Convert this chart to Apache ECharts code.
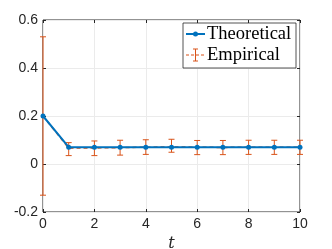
<!DOCTYPE html>
<html><head><meta charset="utf-8">
<script src="https://cdn.jsdelivr.net/npm/echarts@6/dist/echarts.min.js"></script>
<style>html,body{margin:0;padding:0;background:#fff}#c{width:332px;height:249px}</style>
</head><body><div id="c"></div>
<script>
const tValues = [0,1,2,3,4,5,6,7,8,9,10];
const theoretical = [0.2,0.07,0.07,0.07,0.07,0.07,0.07,0.07,0.07,0.07,0.07];
const empirical = [0.2,0.066,0.067,0.068,0.07,0.071,0.07,0.069,0.07,0.07,0.07];
const errLow = [-0.13,0.035,0.035,0.037,0.040,0.049,0.039,0.039,0.040,0.040,0.040];
const errHigh = [0.53,0.089,0.096,0.099,0.101,0.103,0.098,0.098,0.099,0.099,0.099];
const yTicks = [-0.2,0,0.2,0.4,0.6];
const xTicks = [0,2,4,6,8,10];

const BLUE = '#0072BD', ORANGE = '#D95319';
const chart = echarts.init(document.getElementById('c'));
const errData = tValues.map((t,i)=>[t, errLow[i], errHigh[i]]);
const tickStyle = {inside:true,length:3,lineStyle:{color:'#262626'}};
chart.setOption({
  animation:false,
  grid:{left:43,right:32,top:20,bottom:37,show:true,borderColor:'#262626',borderWidth:1,
    containLabel:false,outerBoundsMode:'none'},
  xAxis:[{type:'value',min:0,max:10,interval:2,
    axisLine:{show:false,onZero:false},
    axisTick:tickStyle,
    splitLine:{show:true,lineStyle:{color:'#ebebeb',width:1}},
    axisLabel:{color:'#262626',fontFamily:'Liberation Sans',fontSize:14,margin:5,
      formatter:v=>xTicks.includes(v)?String(v):''},
    name:'t',nameLocation:'middle',nameGap:22,
    nameTextStyle:{fontFamily:'DejaVu Serif',fontStyle:'italic',fontSize:16,color:'#262626'}},
    {type:'value',position:'top',min:0,max:10,interval:2,
    axisLine:{show:false,onZero:false},axisTick:tickStyle,axisLabel:{show:false},splitLine:{show:false}}],
  yAxis:[{type:'value',min:-0.2,max:0.6,interval:0.2,
    axisLine:{show:false,onZero:false},
    axisTick:tickStyle,
    splitLine:{show:true,lineStyle:{color:'#ebebeb',width:1}},
    axisLabel:{color:'#262626',fontFamily:'Liberation Sans',fontSize:14,margin:5,
      formatter:v=>{const r=Math.round(v*10)/10; return yTicks.includes(r)?(r===0?'0':String(r)):'';}},
    name:'Gen-error',nameLocation:'middle',nameGap:33,
    nameTextStyle:{fontFamily:'Liberation Serif',fontSize:18,color:'#262626'}},
    {type:'value',position:'right',min:-0.2,max:0.6,interval:0.2,
    axisLine:{show:false,onZero:false},axisTick:tickStyle,axisLabel:{show:false},splitLine:{show:false}}],
  series:[
    {type:'custom',name:'err',data:errData,z:2,
      renderItem:(params,api)=>{
        const x=api.coord([api.value(0),api.value(1)])[0];
        const lo=api.coord([api.value(0),api.value(1)])[1];
        const hi=api.coord([api.value(0),api.value(2)])[1];
        const w=3;
        const st={stroke:ORANGE,lineWidth:1};
        return {type:'group',children:[
          {type:'line',shape:{x1:x,y1:lo,x2:x,y2:hi},style:st},
          {type:'line',shape:{x1:x-w,y1:lo,x2:x+w,y2:lo},style:st},
          {type:'line',shape:{x1:x-w,y1:hi,x2:x+w,y2:hi},style:st}
        ]};
      }},
    {type:'line',name:'Empirical',data:tValues.map((t,i)=>[t,empirical[i]]),z:3,
      symbol:'none',lineStyle:{color:ORANGE,width:1.5,type:[4,3]}},
    {type:'line',name:'Theoretical',data:tValues.map((t,i)=>[t,theoretical[i]]),z:4,
      symbol:'circle',symbolSize:5,itemStyle:{color:BLUE},lineStyle:{color:BLUE,width:2}}
  ],
  graphic:[
    {type:'rect',shape:{x:183,y:23,width:113,height:45},style:{fill:'#fff',stroke:'#262626',lineWidth:0.8},z:10},
    {type:'line',shape:{x1:186,y1:34,x2:205,y2:34},style:{stroke:BLUE,lineWidth:2},z:11},
    {type:'circle',shape:{cx:195.5,cy:34,r:2.5},style:{fill:BLUE},z:11},
    {type:'text',x:207,y:34,style:{text:'Theoretical',fontFamily:'Liberation Serif',fontSize:18.5,fill:'#000',verticalAlign:'middle'},z:11},
    {type:'line',shape:{x1:186,y1:55,x2:205,y2:55},style:{stroke:ORANGE,lineWidth:1,lineDash:[3,2]},z:11},
    {type:'line',shape:{x1:195.5,y1:49,x2:195.5,y2:61},style:{stroke:ORANGE,lineWidth:1},z:11},
    {type:'line',shape:{x1:193,y1:49,x2:198,y2:49},style:{stroke:ORANGE,lineWidth:1},z:11},
    {type:'line',shape:{x1:193,y1:61,x2:198,y2:61},style:{stroke:ORANGE,lineWidth:1},z:11},
    {type:'text',x:207,y:55,style:{text:'Empirical',fontFamily:'Liberation Serif',fontSize:18.5,fill:'#000',verticalAlign:'middle'},z:11}
  ]
});
</script></body></html>
